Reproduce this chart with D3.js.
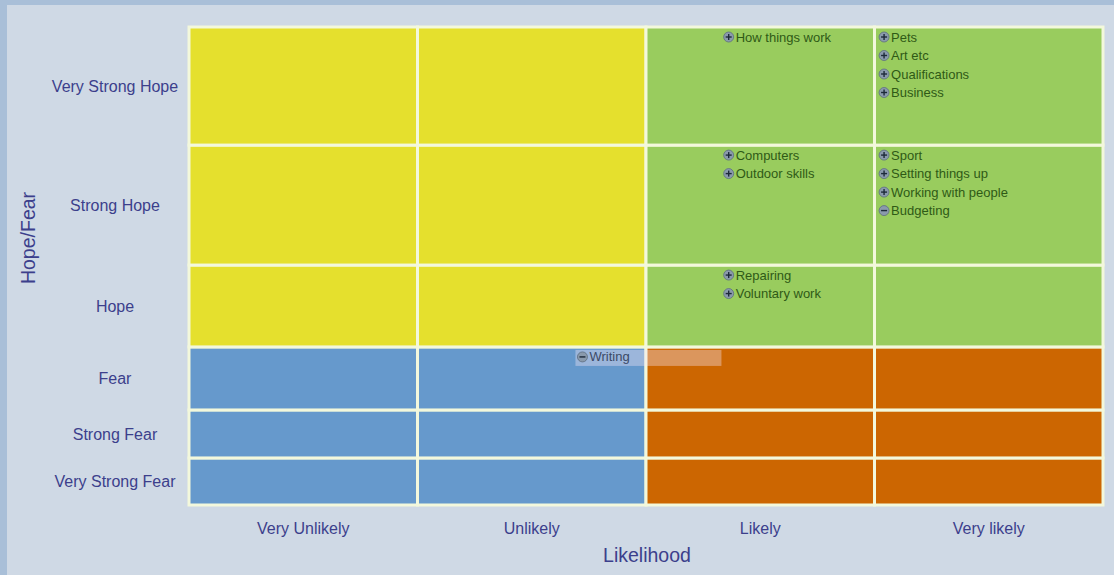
<!DOCTYPE html>
<html><head><meta charset="utf-8">
<script src="https://cdn.jsdelivr.net/npm/d3@7"></script>
<style>body{margin:0;background:#cfd9e5;}svg{display:block;font-family:"Liberation Sans",Arial,sans-serif;}</style>
</head><body><svg id="c" width="1114" height="575"></svg>
<script>
const xCats = ["Very Unlikely", "Unlikely", "Likely", "Very likely"];
const yCats = ["Very Strong Fear", "Strong Fear", "Fear", "Hope", "Strong Hope", "Very Strong Hope"];
const ySpans = [1, 1.02, 1.34, 1.74, 2.55, 2.51];
const itemNames = ["How things work", "Pets", "Art etc", "Qualifications", "Business",
  "Computers", "Outdoor skills", "Sport", "Setting things up", "Working with people", "Budgeting",
  "Repairing", "Voluntary work", "Writing"];
const itemLikelihood = [2.34, 3.02, 3.02, 3.02, 3.02, 2.34, 2.34, 3.02, 3.02, 3.02, 3.02, 2.34, 2.34, 1.70];
const itemRow = ["Very Strong Hope", "Very Strong Hope", "Very Strong Hope", "Very Strong Hope", "Very Strong Hope",
  "Strong Hope", "Strong Hope", "Strong Hope", "Strong Hope", "Strong Hope", "Strong Hope",
  "Hope", "Hope", "Fear"];
const itemSign = ["+", "+", "+", "+", "+", "+", "+", "+", "+", "+", "-", "+", "+", "-"];

const svg = d3.select("#c");
const W = 1114, H = 575;
const L = 189, R = 1103, T = 27, B = 505;

// frame
svg.append("rect").attr("width", W).attr("height", H).attr("fill", "#cfd9e5");
svg.append("rect").attr("x", 0).attr("y", 0).attr("width", W).attr("height", 5).attr("fill", "#a9bfd8");
svg.append("rect").attr("x", 0).attr("y", 0).attr("width", 7).attr("height", H).attr("fill", "#a9bfd8");

const x = d3.scaleLinear().domain([0, xCats.length]).range([L, R]);
const cum = [0]; ySpans.forEach(s => cum.push(cum[cum.length - 1] + s));
const y = d3.scaleLinear().domain([0, cum[cum.length - 1]]).range([B, T]);
const rowTop = c => y(cum[yCats.indexOf(c) + 1]);

const colorFor = (xi, yi) => {
  const likely = xi >= 2, hope = yi >= 3;
  if (hope) return likely ? "#99cc5e" : "#e5e02d";
  return likely ? "#cc6601" : "#6699cc";
};

const cells = [];
xCats.forEach((xc, xi) => yCats.forEach((yc, yi) => cells.push({xi, yi})));
svg.append("g").selectAll("rect").data(cells).join("rect")
  .attr("x", d => x(d.xi)).attr("y", d => y(cum[d.yi + 1]))
  .attr("width", d => x(d.xi + 1) - x(d.xi))
  .attr("height", d => y(cum[d.yi]) - y(cum[d.yi + 1]))
  .attr("fill", d => colorFor(d.xi, d.yi))
  .attr("stroke", "#f3f8dc").attr("stroke-width", 3);

// axes
const axisColor = "#3c3f8c";
const xAxis = d3.axisBottom(d3.scaleBand().domain(xCats).range([L, R])).tickSize(0).tickPadding(18);
const gx = svg.append("g").attr("transform", `translate(0,${B})`).call(xAxis);
gx.select(".domain").remove();
gx.selectAll("text").attr("fill", axisColor).attr("font-size", 16).attr("font-family", "Liberation Sans, Arial, sans-serif");

const gy = svg.append("g");
gy.selectAll("text").data(yCats).join("text")
  .attr("x", 115).attr("y", (d, i) => (y(cum[i]) + y(cum[i + 1])) / 2)
  .attr("dy", "0.35em").attr("text-anchor", "middle")
  .attr("fill", axisColor).attr("font-size", 16).text(d => d);

svg.append("text").attr("x", 647).attr("y", 562).attr("text-anchor", "middle")
  .attr("fill", axisColor).attr("font-size", 19.5).text("Likelihood");
svg.append("text").attr("transform", "translate(35,238) rotate(-90)").attr("text-anchor", "middle")
  .attr("fill", axisColor).attr("font-size", 19.5).text("Hope/Fear");

// items
const counts = {};
const items = itemNames.map((n, i) => {
  const key = itemRow[i] + "|" + Math.floor(itemLikelihood[i]);
  const k = counts[key] || 0; counts[key] = k + 1;
  return {name: n, lx: itemLikelihood[i], row: itemRow[i], sign: itemSign[i], k};
});

const writing = items.filter(d => d.row === "Fear");
svg.append("g").selectAll("rect").data(writing).join("rect")
  .attr("x", d => x(d.lx) - 2).attr("y", d => rowTop(d.row) + 3)
  .attr("width", 146).attr("height", 16)
  .attr("fill", "#f4e4f4").attr("opacity", 0.38);

const gi = svg.append("g").selectAll("g").data(items).join("g")
  .attr("transform", d => `translate(${x(d.lx) + 5},${rowTop(d.row) + 10 + d.k * 18.5})`);
gi.append("circle").attr("r", 5).attr("fill", "#8a9aac").attr("stroke", "#5d6d80").attr("stroke-width", 0.8);
gi.append("line").attr("x1", -3).attr("x2", 3).attr("stroke", "#1d2a3a").attr("stroke-width", 1.4);
gi.filter(d => d.sign === "+").append("line").attr("y1", -3).attr("y2", 3).attr("stroke", "#1d2a3a").attr("stroke-width", 1.4);
gi.append("text").attr("x", 7).attr("dy", "0.35em").attr("font-size", 13)
  .attr("fill", d => d.row === "Fear" ? "#3d4a66" : "#2f5a16").text(d => d.name);
</script></body></html>
